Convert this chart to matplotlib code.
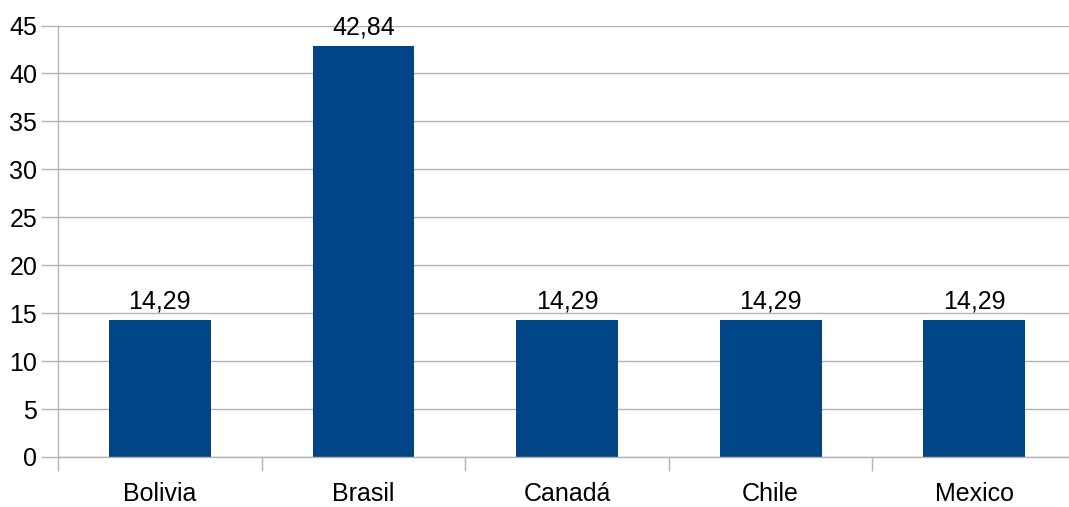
import matplotlib
matplotlib.use('Agg')
import matplotlib.pyplot as plt
import numpy as np

COUNTRIES = ['Bolivia', 'Brasil', 'Canadá', 'Chile', 'Mexico']
VALUES = [14.29, 42.84, 14.29, 14.29, 14.29]
Y_TICKS = [0, 5, 10, 15, 20, 25, 30, 35, 40, 45]

BAR_COLOR = '#004586'
GRID_COLOR = '#b3b3b3'
FS = 18

plt.rcParams['font.family'] = ['Liberation Sans', 'DejaVu Sans']

W, H = 1069, 507
fig = plt.figure(figsize=(W / 100, H / 100), dpi=100)
left, right, top, bottom = 58, 1076, 25.5, 457
ax = fig.add_axes([left / W, 1 - bottom / H, (right - left) / W, (bottom - top) / H])

x = np.arange(len(COUNTRIES)) + 0.5
bars = ax.bar(x, VALUES, width=0.5, color=BAR_COLOR, zorder=3)
for xi, v in zip(x, VALUES):
    ax.annotate(f'{v:.2f}'.replace('.', ','), (xi, v), xytext=(0, 5),
                textcoords='offset points', ha='center', va='bottom', fontsize=FS)

ax.set_xlim(0, len(COUNTRIES))
ax.set_ylim(0, 45)
ax.set_yticks(Y_TICKS)
ax.set_yticklabels([str(t) for t in Y_TICKS], fontsize=FS)
ax.yaxis.grid(True, color=GRID_COLOR, linewidth=1, zorder=0)
ax.tick_params(axis='y', length=12, width=1, color=GRID_COLOR, pad=3)

ax.set_xticks(np.arange(len(COUNTRIES) + 1))
ax.set_xticklabels([])
ax.set_xticks(x, minor=True)
ax.set_xticklabels(COUNTRIES, minor=True, fontsize=FS)
ax.tick_params(axis='x', which='major', length=10, width=1, color=GRID_COLOR)
ax.tick_params(axis='x', which='minor', length=0, pad=18)

for s in ['top', 'right']:
    ax.spines[s].set_visible(False)
for s in ['left', 'bottom']:
    ax.spines[s].set_color(GRID_COLOR)
    ax.spines[s].set_linewidth(1)
    ax.spines[s].set_zorder(4)

fig.savefig('out.png', dpi=100)
